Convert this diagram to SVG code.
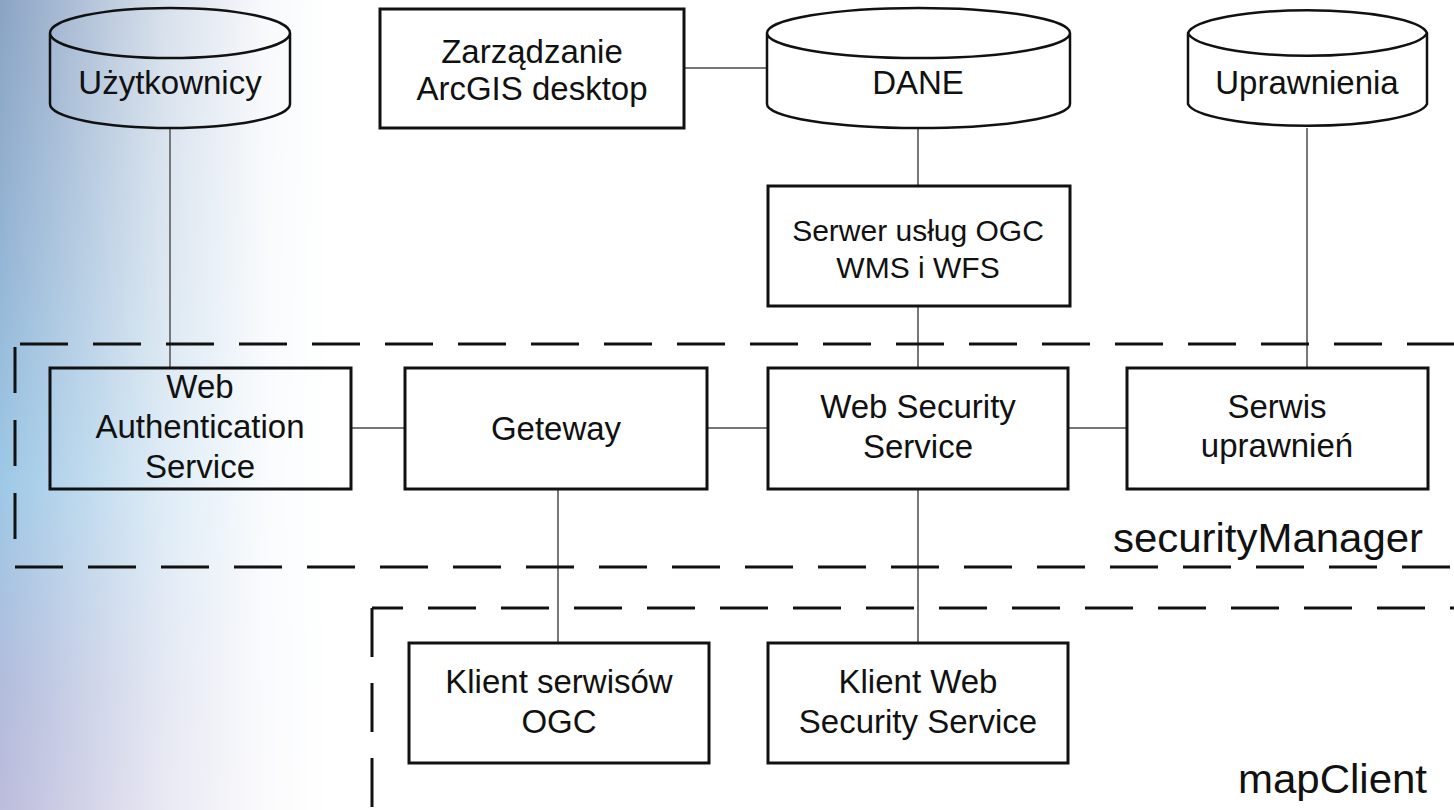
<svg xmlns="http://www.w3.org/2000/svg" width="1454" height="810" viewBox="0 0 1454 810">
<defs>
<linearGradient id="bgV" x1="0" y1="0" x2="0" y2="1">
<stop offset="0" stop-color="#8aa3c4"/>
<stop offset="0.3" stop-color="#94b4d4"/>
<stop offset="0.6" stop-color="#9dc8e6"/>
<stop offset="0.85" stop-color="#b2bcdc"/>
<stop offset="1" stop-color="#bcbcdc"/>
</linearGradient>
<linearGradient id="maskH" x1="0" y1="0" x2="1" y2="0">
<stop offset="0" stop-color="#fff"/>
<stop offset="0.2" stop-color="#bbb"/>
<stop offset="0.5" stop-color="#555"/>
<stop offset="0.8" stop-color="#111"/>
<stop offset="1" stop-color="#000"/>
</linearGradient>
<mask id="fade" maskUnits="userSpaceOnUse" x="0" y="0" width="340" height="810">
<rect x="0" y="0" width="330" height="810" fill="url(#maskH)"/>
</mask>
</defs>
<style>
.box{fill:none;stroke:#111;stroke-width:3}
.cyl{fill:none;stroke:#111;stroke-width:2.5}
.conn{stroke:#777;stroke-width:2;fill:none}
.dash{stroke:#111;stroke-width:3;fill:none;stroke-dasharray:48 25}
.t{font-family:"Liberation Sans",Arial,sans-serif;font-size:33px;fill:#111;text-anchor:middle}
.s{font-size:30px}
.lbl{font-family:"Liberation Sans",Arial,sans-serif;font-size:40px;fill:#111}
</style>
<rect x="0" y="0" width="1454" height="810" fill="#fff"/>
<rect x="0" y="0" width="330" height="810" fill="url(#bgV)" mask="url(#fade)"/>

<g id="connectors">
<line class="conn" x1="170" y1="128" x2="170" y2="368"/>
<line class="conn" x1="685" y1="68" x2="767" y2="68"/>
<line class="conn" x1="918" y1="128" x2="918" y2="186"/>
<line class="conn" x1="918" y1="306" x2="918" y2="368"/>
<line class="conn" x1="1307" y1="128" x2="1307" y2="368"/>
<line class="conn" x1="351" y1="428" x2="405" y2="428"/>
<line class="conn" x1="707" y1="428" x2="768" y2="428"/>
<line class="conn" x1="1068" y1="428" x2="1127" y2="428"/>
<line class="conn" x1="558" y1="489" x2="558" y2="643"/>
<line class="conn" x1="918" y1="489" x2="918" y2="643"/>
</g>

<g id="securityManager">
<line class="dash" x1="20" y1="344" x2="1454" y2="344"/>
<line class="dash" x1="15" y1="347" x2="15" y2="545" style="stroke-dasharray:46 27"/>
<line class="dash" x1="15" y1="567" x2="1454" y2="567"/>
<text class="lbl" x="1113" y="552" textLength="310" lengthAdjust="spacingAndGlyphs">securityManager</text>
</g>

<g id="mapClient">
<line class="dash" x1="372" y1="608" x2="1454" y2="608" style="stroke-dashoffset:17"/>
<line class="dash" x1="372" y1="608" x2="372" y2="810" style="stroke-dasharray:49 26"/>
<text class="lbl" x="1238" y="793" textLength="189" lengthAdjust="spacingAndGlyphs">mapClient</text>
</g>

<g id="uzytkownicy">
<path class="cyl" d="M50,33 A120,25 0 0 1 290,33 A120,25 0 0 1 50,33 Z M50,33 L50,104 A120,24 0 0 0 290,104 L290,33"/>
<text class="t" x="170" y="94">Użytkownicy</text>
</g>

<g id="zarzadzanie">
<rect class="box" x="380" y="9" width="304" height="119"/>
<text class="t" x="532" y="63">Zarządzanie</text>
<text class="t" x="532" y="100">ArcGIS desktop</text>
</g>

<g id="dane">
<path class="cyl" d="M767,33 A151,25 0 0 1 1070,33 A151,25 0 0 1 767,33 Z M767,33 L767,104 A151,24 0 0 0 1070,104 L1070,33"/>
<text class="t" x="918" y="94">DANE</text>
</g>

<g id="uprawnienia">
<path class="cyl" d="M1188,33 A120,25 0 0 1 1427,33 A120,25 0 0 1 1188,33 Z M1188,33 L1188,104 A120,24 0 0 0 1427,104 L1427,33"/>
<text class="t" x="1307" y="94">Uprawnienia</text>
</g>

<g id="serwer">
<rect class="box" x="768" y="186" width="302" height="120"/>
<text class="t s" x="918" y="241">Serwer usług OGC</text>
<text class="t s" x="918" y="278">WMS i WFS</text>
</g>

<g id="was">
<rect class="box" x="50" y="368" width="301" height="121"/>
<text class="t" x="200" y="398">Web</text>
<text class="t" x="200" y="438">Authentication</text>
<text class="t" x="200" y="478">Service</text>
</g>

<g id="geteway">
<rect class="box" x="405" y="368" width="302" height="121"/>
<text class="t" x="556" y="440">Geteway</text>
</g>

<g id="wss">
<rect class="box" x="768" y="368" width="300" height="121"/>
<text class="t" x="918" y="418">Web Security</text>
<text class="t" x="918" y="458">Service</text>
</g>

<g id="serwis">
<rect class="box" x="1127" y="368" width="301" height="121"/>
<text class="t" x="1277" y="418">Serwis</text>
<text class="t" x="1277" y="457">uprawnień</text>
</g>

<g id="klientOGC">
<rect class="box" x="409" y="643" width="300" height="120"/>
<text class="t" x="559" y="693">Klient serwisów</text>
<text class="t" x="559" y="733">OGC</text>
</g>

<g id="klientWSS">
<rect class="box" x="768" y="643" width="300" height="120"/>
<text class="t" x="918" y="693">Klient Web</text>
<text class="t" x="918" y="733">Security Service</text>
</g>
</svg>
